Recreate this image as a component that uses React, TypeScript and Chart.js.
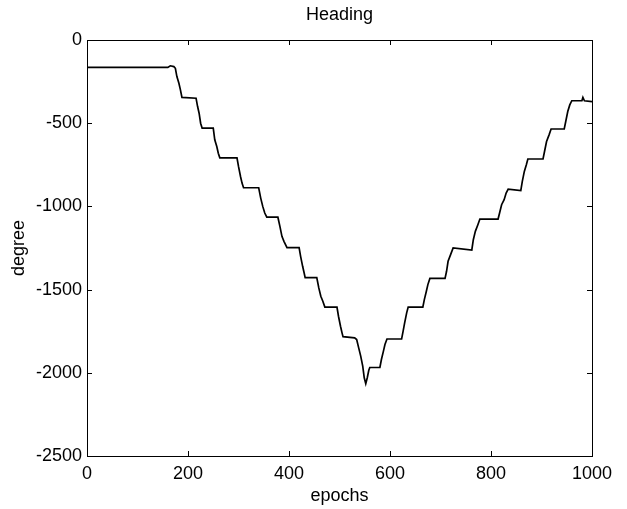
import React, { useEffect, useRef } from 'react';
import { Chart, registerables } from 'chart.js';

Chart.register(...registerables);

const epochs = [
  0, 160, 165, 172, 175, 178, 182, 185, 188,
  216, 219, 222, 225, 228,
  250, 253, 257, 260, 263,
  297, 300, 304, 307, 310,
  340, 344, 348, 352, 356,
  378, 382, 386, 390, 396,
  420, 423, 427, 430, 432,
  455, 459, 463, 467, 471,
  495, 498, 502, 505, 507,
  530, 534, 538, 542, 546, 549, 552,
  555, 558, 560,
  580, 583, 587, 590, 594,
  623, 626, 629, 633, 636,
  665, 668, 672, 675, 679,
  709, 712, 715, 720, 725,
  762, 765, 769, 774, 778,
  814, 817, 821, 826, 830, 834,
  859, 862, 866, 870, 873,
  903, 906, 910, 915, 919,
  945, 948, 952, 956, 960,
  980, 982, 985, 1000,
];

const heading = [
  -165, -165, -155, -160, -170, -220, -260, -300, -345,
  -350, -400, -440, -500, -530,
  -530, -600, -640, -680, -708,
  -708, -760, -820, -860, -888,
  -888, -950, -1000, -1040, -1065,
  -1065, -1120, -1180, -1210, -1248,
  -1248, -1300, -1360, -1400, -1428,
  -1428, -1490, -1540, -1570, -1605,
  -1605, -1660, -1720, -1760, -1783,
  -1790, -1800, -1850, -1900, -1960, -2030, -2065,
  -2030, -1985, -1968,
  -1968, -1920, -1870, -1830, -1797,
  -1797, -1750, -1700, -1640, -1605,
  -1605, -1560, -1510, -1470, -1433,
  -1433, -1390, -1330, -1290, -1250,
  -1262, -1200, -1150, -1110, -1076,
  -1076, -1040, -990, -960, -920, -896,
  -905, -850, -790, -750, -715,
  -715, -670, -610, -570, -535,
  -535, -490, -430, -390, -365,
  -365, -345, -365, -370,
];

const xTicks = [0, 200, 400, 600, 800, 1000];
const yTicks = [0, -500, -1000, -1500, -2000, -2500];

const FONT = 'Liberation Sans, Arial, Helvetica, sans-serif';

const framePlugin = {
  id: 'matlabFrame',
  afterDatasetsDraw(chart: any) {
    const { ctx, chartArea: a, scales } = chart;
    const L = 5;
    ctx.save();
    ctx.strokeStyle = '#000';
    ctx.lineWidth = 1;
    ctx.strokeRect(Math.round(a.left) + 0.5, Math.round(a.top) + 0.5, Math.round(a.right - a.left), Math.round(a.bottom - a.top));
    ctx.beginPath();
    for (const v of xTicks) {
      const px = Math.round(scales.x.getPixelForValue(v)) + 0.5;
      ctx.moveTo(px, a.bottom);
      ctx.lineTo(px, a.bottom - L);
      ctx.moveTo(px, a.top);
      ctx.lineTo(px, a.top + L);
    }
    for (const v of yTicks) {
      const py = Math.round(scales.y.getPixelForValue(v)) + 0.5;
      ctx.moveTo(a.left, py);
      ctx.lineTo(a.left + L, py);
      ctx.moveTo(a.right, py);
      ctx.lineTo(a.right - L, py);
    }
    ctx.stroke();
    ctx.restore();
  },
};

export default function App() {
  const ref = useRef<HTMLCanvasElement>(null);

  useEffect(() => {
    if (!ref.current) return;
    const chart = new Chart(ref.current, {
      type: 'line',
      data: {
        datasets: [
          {
            label: 'Heading',
            data: epochs.map((e, i) => ({ x: e, y: heading[i] })),
            borderColor: '#000',
            borderWidth: 1.7,
            pointRadius: 0,
            tension: 0,
            fill: false,
          },
        ],
      },
      options: {
        animation: false,
        responsive: false,
        devicePixelRatio: 1,
        layout: { padding: { left: 0, right: 35, top: 0, bottom: 0 } },
        plugins: {
          legend: { display: false },
          tooltip: { enabled: false },
          title: { display: false },
        },
        scales: {
          x: {
            type: 'linear',
            position: 'bottom',
            min: 0,
            max: 1000,
            afterFit: (s: any) => { s.height = 53; },
            afterBuildTicks: (s: any) => { s.ticks = xTicks.map((v) => ({ value: v })); },
            grid: { display: false, drawTicks: false },
            border: { display: false },
            ticks: {
              color: '#000',
              padding: 7,
              maxRotation: 0,
              font: { family: FONT, size: 18 },
              callback: (v: any) => String(v),
            },
            title: {
              display: true,
              text: 'epochs',
              color: '#000',
              font: { family: FONT, size: 18 },
              padding: { top: 0, bottom: 2 },
            },
          },
          top: {
            type: 'linear',
            position: 'top',
            min: 0,
            max: 1000,
            afterFit: (s: any) => { s.height = 40; },
            grid: { display: false, drawTicks: false },
            border: { display: false },
            ticks: { display: false },
            title: {
              display: true,
              text: 'Heading',
              color: '#000',
              font: { family: FONT, size: 18 },
              padding: { top: 4, bottom: 0 },
            },
          },
          y: {
            type: 'linear',
            min: -2500,
            max: 0,
            afterFit: (s: any) => { s.width = 87; },
            afterBuildTicks: (s: any) => { s.ticks = yTicks.map((v) => ({ value: v })); },
            grid: { display: false, drawTicks: false },
            border: { display: false },
            ticks: {
              color: '#000',
              padding: 5,
              font: { family: FONT, size: 18 },
              callback: (v: any) => String(v),
            },
            title: {
              display: true,
              text: 'degree',
              color: '#000',
              font: { family: FONT, size: 18 },
              padding: { top: 8, bottom: 0 },
            },
          },
        },
      },
      plugins: [framePlugin],
    });
    return () => chart.destroy();
  }, []);

  return (
    <div style={{ position: 'fixed', left: 0, top: 0, width: 627, height: 509, background: '#fff' }}>
      <canvas ref={ref} width={627} height={509} />
    </div>
  );
}
